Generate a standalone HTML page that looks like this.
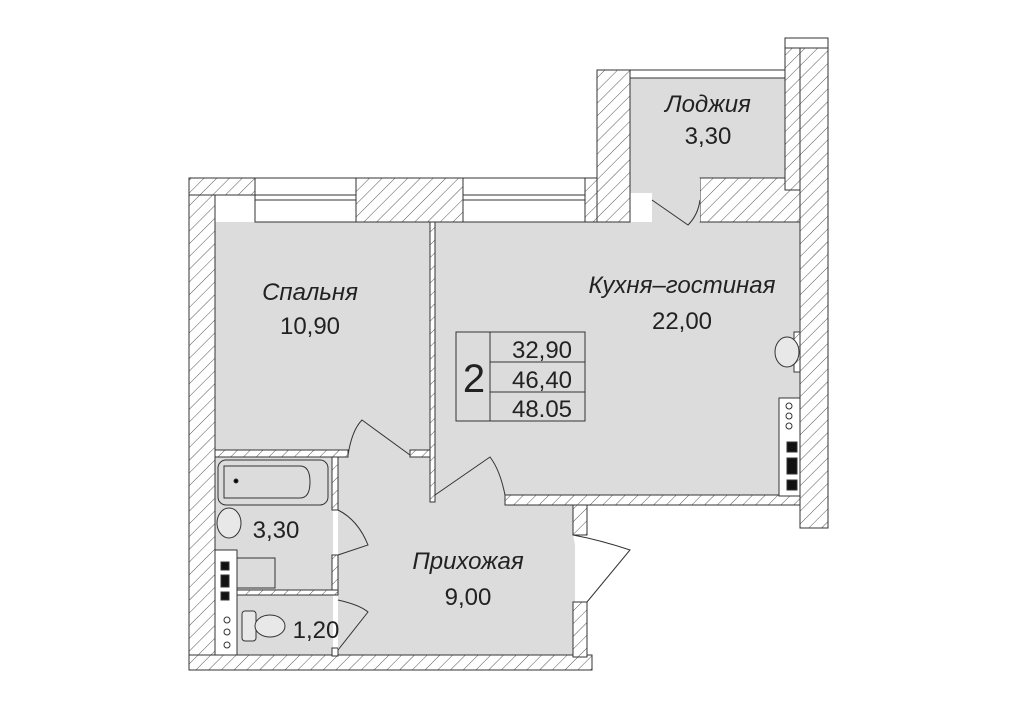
<!DOCTYPE html>
<html><head><meta charset="utf-8"><style>
html,body{margin:0;padding:0;background:#fff;width:1023px;height:723px;overflow:hidden}
text{font-family:"Liberation Sans","DejaVu Sans",sans-serif;fill:#222}
</style></head><body>
<svg width="1023" height="723" viewBox="0 0 1023 723" xmlns="http://www.w3.org/2000/svg">
<defs>
<pattern id="h" width="9" height="9" patternUnits="userSpaceOnUse" patternTransform="rotate(45)">
<rect width="9" height="9" fill="#fff"/><line x1="0" y1="0" x2="0" y2="9" stroke="#444" stroke-width="0.9"/>
</pattern>
</defs>
<g stroke="#333" stroke-width="1">
<rect x="215" y="222" width="215" height="238" fill="#dcdcdc" stroke="none"/>
<rect x="435" y="222" width="365" height="275" fill="#dcdcdc" stroke="none"/>
<rect x="630" y="78" width="155" height="115" fill="#dcdcdc" stroke="none"/>
<rect x="338" y="455" width="237" height="200" fill="#dcdcdc" stroke="none"/>
<rect x="215" y="457" width="118" height="198" fill="#dcdcdc" stroke="none"/>
<rect x="189" y="188" width="26" height="482" fill="url(#h)"/>
<rect x="189" y="655" width="403" height="15" fill="url(#h)"/>
<rect x="189" y="178" width="66" height="17" fill="url(#h)"/>
<rect x="356" y="178" width="107" height="44" fill="url(#h)"/>
<rect x="585" y="178" width="45" height="44" fill="url(#h)"/>
<rect x="597" y="70" width="33" height="152" fill="url(#h)"/>
<rect x="700" y="178" width="100" height="44" fill="url(#h)"/>
<rect x="785" y="40" width="15" height="150" fill="url(#h)"/>
<rect x="800" y="48" width="28" height="480" fill="url(#h)"/>
<rect x="785" y="38" width="43" height="10" fill="#fff"/>
<rect x="255" y="178" width="101" height="44" fill="#fff"/>
<line x1="255" y1="195" x2="356" y2="195"/><line x1="255" y1="200" x2="356" y2="200"/>
<rect x="463" y="178" width="122" height="44" fill="#fff"/>
<line x1="463" y1="195" x2="585" y2="195"/><line x1="463" y1="200" x2="585" y2="200"/>
<rect x="630" y="70" width="155" height="8" fill="#fff"/>
<rect x="652" y="178" width="48" height="44" fill="#dcdcdc" stroke="none"/>
<rect x="430" y="222" width="5" height="280" fill="url(#h)"/>
<rect x="505" y="495" width="295" height="10" fill="url(#h)"/>
<rect x="573" y="505" width="14" height="30" fill="url(#h)"/>
<rect x="573" y="602" width="14" height="55" fill="url(#h)"/>
<rect x="215" y="450" width="133" height="7" fill="url(#h)"/>
<rect x="410" y="450" width="20" height="7" fill="url(#h)"/>
<rect x="332" y="457" width="6" height="53" fill="url(#h)"/>
<rect x="332" y="555" width="6" height="35" fill="url(#h)"/>
<rect x="237" y="590" width="101" height="5" fill="url(#h)"/>
<rect x="332" y="648" width="6" height="8" fill="url(#h)"/>
<path d="M348 455 Q352 430 362 420 L410 455" fill="#dcdcdc"/>
<path d="M435 495 L490 457 Q500 470 505 495" fill="#dcdcdc"/>
<path d="M652 200 L688 225 Q698 215 700 200" fill="#dcdcdc"/>
<path d="M338 510 Q358 520 368 545 L338 555" fill="#dcdcdc"/>
<path d="M338 600 Q360 605 368 612 L338 650" fill="#dcdcdc"/>
<path d="M573 535 Q600 540 630 550 L587 602" fill="#fff"/>
<rect x="456" y="332" width="129" height="89" fill="none"/>
<line x1="490" y1="332" x2="490" y2="421"/>
<line x1="490" y1="362" x2="585" y2="362"/><line x1="490" y1="392" x2="585" y2="392"/>
<rect x="218" y="460" width="110" height="45" rx="8" fill="#dcdcdc"/>
<path d="M224 466 H300 Q310 466 310 482 Q310 498 300 498 H224 Z" fill="none"/>
<circle cx="236" cy="481" r="2"/>
<ellipse cx="229" cy="523" rx="12" ry="15" fill="#e8e8e8"/>
<rect x="215" y="550" width="22" height="105" fill="#fff"/>
<rect x="237" y="558" width="38" height="30" fill="none"/>
<rect x="221" y="562" width="8" height="8" fill="#111"/>
<rect x="221" y="575" width="8" height="12" fill="#111"/>
<rect x="221" y="592" width="8" height="8" fill="#111"/>
<circle cx="227" cy="620" r="3" fill="none"/><circle cx="227" cy="632" r="3" fill="none"/><circle cx="227" cy="645" r="3" fill="none"/>
<rect x="242" y="611" width="14" height="30" rx="3" fill="#e8e8e8"/>
<ellipse cx="270" cy="626" rx="15" ry="11" fill="#e8e8e8"/>
<rect x="794" y="332" width="6" height="40" fill="url(#h)"/>
<ellipse cx="787" cy="352" rx="12" ry="15" fill="#e8e8e8"/>
<rect x="779" y="398" width="21" height="98" fill="#fff"/>
<rect x="787" y="442" width="10" height="10" fill="#111"/>
<rect x="787" y="458" width="10" height="16" fill="#111"/>
<rect x="787" y="480" width="10" height="10" fill="#111"/>
<circle cx="789" cy="406" r="3" fill="none"/><circle cx="789" cy="416" r="3" fill="none"/><circle cx="789" cy="426" r="3" fill="none"/>
</g>
<g font-style="italic" font-size="24" text-anchor="middle">
<text x="310" y="300">Спальня</text>
<text x="310" y="334" font-style="normal">10,90</text>
<text x="682" y="293">Кухня–гостиная</text>
<text x="682" y="329" font-style="normal">22,00</text>
<text x="708" y="112">Лоджия</text>
<text x="708" y="144" font-style="normal">3,30</text>
<text x="468" y="569">Прихожая</text>
<text x="468" y="605" font-style="normal">9,00</text>
<text x="276" y="538" font-style="normal">3,30</text>
<text x="316" y="638" font-style="normal">1,20</text>
<text x="542" y="358" font-style="normal">32,90</text>
<text x="542" y="388" font-style="normal">46,40</text>
<text x="542" y="417" font-style="normal">48.05</text>
<text x="474" y="392" font-size="40" font-style="normal">2</text>
</g>
</svg>
</body></html>
